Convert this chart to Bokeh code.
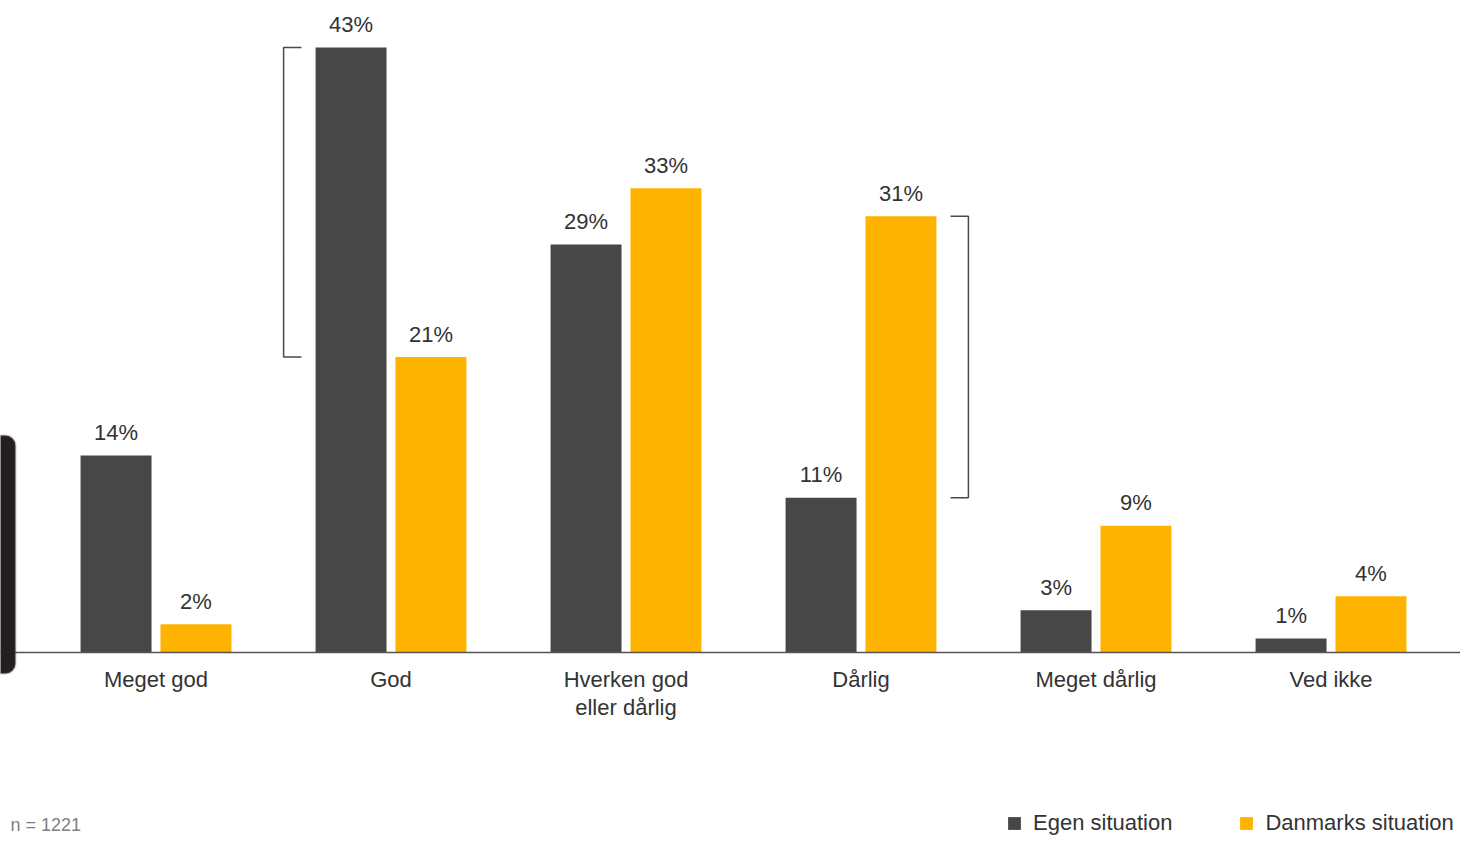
from bokeh.plotting import figure
from bokeh.models import ColumnDataSource, Range1d, Span, Legend, LegendItem, Label, BoxAnnotation
from bokeh.core.properties import value
from bokeh.transform import dodge
from bokeh.embed import file_html
from bokeh.resources import INLINE

categories = ["Meget god", "God", "Hverken god\neller dårlig", "Dårlig", "Meget dårlig", "Ved ikke"]
egen = [14, 43, 29, 11, 3, 1]
danmark = [2, 21, 33, 31, 9, 4]
series_names = ["Egen situation", "Danmarks situation"]
n_note = "n = 1221"
# brackets: (category index, side, series values spanned)
brackets = [(1, -1, (egen[1], danmark[1])), (3, 1, (danmark[3], egen[3]))]

DARK = "#474747"
YELLOW = "#FDB300"
TXT = "#333333"
FONT = "Liberation Sans"

W, H = 1460, 836
xs = list(range(len(categories)))
src = ColumnDataSource(dict(
    x=xs, cat=categories, egen=egen, danmark=danmark,
    egen_lbl=[f"{v}%" for v in egen], dan_lbl=[f"{v}%" for v in danmark],
))

p = figure(width=W, height=H, output_backend="svg", toolbar_location=None,
           x_axis_location=None, y_axis_location=None,
           x_range=Range1d(-0.6617, 5.551), y_range=Range1d(-13.08, 46.34),
           min_border=0, outline_line_color=None, background_fill_color="white")
p.xgrid.visible = False
p.ygrid.visible = False

bw = 0.302
off = 0.170
r1 = p.vbar(x=dodge("x", -off), top="egen", width=bw, bottom=0, source=src,
            fill_color=DARK, line_color=None)
r2 = p.vbar(x=dodge("x", off), top="danmark", width=bw, bottom=0, source=src,
            fill_color=YELLOW, line_color=None)

# baseline
p.add_layout(Span(location=0, dimension="width", line_color="#555555", line_width=1.5))

# value labels
for col, lbl, o in (("egen", "egen_lbl", -off), ("danmark", "dan_lbl", off)):
    p.text(x=dodge("x", o), y=col, text=lbl, source=src, text_align="center",
           text_baseline="middle", y_offset=-23, text_font=value(FONT),
           text_font_size="22px", text_color=TXT)

# category labels
p.text(x="x", y=0, text="cat", source=src, text_align="center", text_baseline="top",
       y_offset=15, text_font=value(FONT), text_font_size="22px", text_color=TXT,
       text_line_height=1.1)

# brackets
bx, by = [], []
for idx, side, (hi, lo) in brackets:
    outer = idx + side * 0.457
    inner = idx + side * 0.381
    bx.append([inner, outer, outer, inner])
    by.append([hi, hi, lo, lo])
p.multi_line(xs=bx, ys=by, line_color="#4a4a4a", line_width=1.5)

# left edge decoration
p.add_layout(BoxAnnotation(left=-0.72, right=-0.598, top=15.42, bottom=-1.49,
                           fill_color="#231f20", fill_alpha=1, line_color="#5a5a5a",
                           line_width=2, border_radius=10))

# note
p.add_layout(Label(x=10, y=2, x_units="screen", y_units="screen", text=n_note,
                   text_font=FONT, text_font_size="18px", text_color="#808080",
                   text_baseline="bottom", text_align="left"))

legend = Legend(items=[LegendItem(label=series_names[0], renderers=[r1]),
                       LegendItem(label=series_names[1], renderers=[r2])],
                location=(1006, 0), orientation="horizontal",
                glyph_width=16, glyph_height=16, label_standoff=11, spacing=66,
                padding=0, margin=0, border_line_color=None, background_fill_alpha=0,
                label_text_font=FONT, label_text_font_size="22px", label_text_color=TXT)
p.add_layout(legend)

open("out.html", "w").write(file_html(p, INLINE))
